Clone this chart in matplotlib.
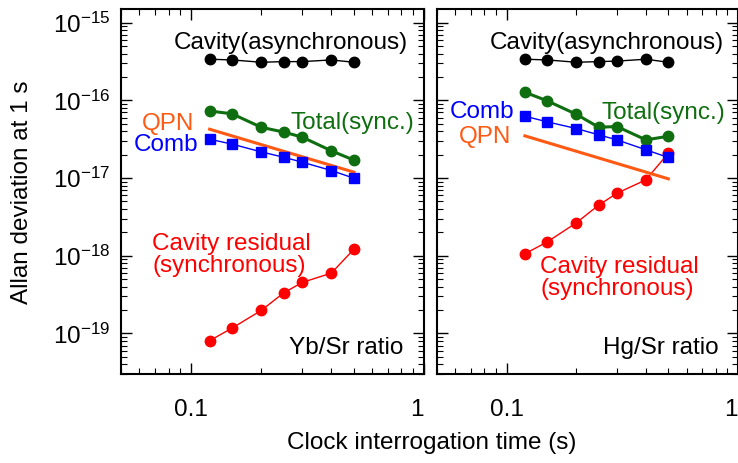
import matplotlib
matplotlib.use("Agg")
import matplotlib.pyplot as plt
from matplotlib.ticker import LogLocator, NullFormatter, FixedLocator
import numpy as np

plt.rcParams['font.family'] = ['Liberation Sans', 'DejaVu Sans']
plt.rcParams['mathtext.fontset'] = 'custom'
plt.rcParams['mathtext.rm'] = 'Liberation Sans'
plt.rcParams['mathtext.it'] = 'Liberation Sans'
plt.rcParams['mathtext.default'] = 'regular'

#
# Data
#
tau = [0.12, 0.15, 0.2, 0.25, 0.3, 0.4, 0.5]
qpn_tau = [0.12, 0.5]

# Yb/Sr ratio
yb_cavity = [3.38e-16, 3.31e-16, 3.09e-16, 3.15e-16, 3.15e-16, 3.31e-16, 3.09e-16]
yb_total = [7.3e-17, 6.7e-17, 4.5e-17, 3.9e-17, 3.36e-17, 2.24e-17, 1.70e-17]
yb_comb = [3.16e-17, 2.73e-17, 2.17e-17, 1.85e-17, 1.60e-17, 1.25e-17, 9.95e-18]
yb_qpn = [4.25e-17, 1.19e-17]
yb_resid = [8.07e-20, 1.175e-19, 1.98e-19, 3.34e-19, 4.54e-19, 5.98e-19, 1.216e-18]

# Hg/Sr ratio
hg_cavity = [3.38e-16, 3.31e-16, 3.09e-16, 3.15e-16, 3.2e-16, 3.38e-16, 3.09e-16]
hg_total = [1.27e-16, 9.84e-17, 6.62e-17, 4.51e-17, 4.60e-17, 3.10e-17, 3.45e-17]
hg_comb = [6.25e-17, 5.28e-17, 4.34e-17, 3.60e-17, 3.10e-17, 2.31e-17, 1.84e-17]
hg_qpn = [3.49e-17, 9.77e-18]
hg_resid = [1.06e-18, 1.51e-18, 2.65e-18, 4.48e-18, 6.38e-18, 9.48e-18, 2.09e-17]

y_major = [1e-19, 1e-18, 1e-17, 1e-16, 1e-15]

green = '#0f6e0f'
orange = '#ff5a14'
fs = 17.5

fig = plt.figure(figsize=(7.38, 4.63), dpi=100)
ax1 = fig.add_axes([0.164, 0.192, 0.4106, 0.7887])
ax2 = fig.add_axes([0.592, 0.192, 0.408, 0.7887])


def panel(ax, cav, tot, comb, qpn, res):
    ax.plot(tau, cav, '-o', color='black', lw=1, ms=7.5, zorder=3)
    ax.plot(tau, res, '-o', color='#ff0000', lw=1, ms=7.5, zorder=3)
    ax.plot(qpn_tau, qpn, '-', color=orange, lw=2.2, zorder=4)
    ax.plot(tau, tot, '-o', color=green, lw=2.2, ms=7.5, zorder=5)
    ax.plot(tau, comb, '-s', color='#0000ff', lw=1, ms=7, zorder=6)
    ax.set_xscale('log')
    ax.set_yscale('log')
    ax.set_xlim(0.05, 1)
    ax.set_ylim(3e-20, 1.5e-15)
    ax.xaxis.set_major_locator(FixedLocator([0.1, 1]))
    ax.xaxis.set_minor_locator(LogLocator(base=10, subs=np.arange(2, 10)))
    ax.xaxis.set_minor_formatter(NullFormatter())
    ax.set_xticklabels(['0.1', '1'])
    ax.get_xticklabels()[1].set_ha('right')
    ax.yaxis.set_major_locator(FixedLocator(y_major))
    ax.yaxis.set_minor_locator(LogLocator(base=10, subs=np.arange(2, 10), numticks=20))
    ax.yaxis.set_minor_formatter(NullFormatter())
    ax.tick_params(which='both', direction='in', top=True, right=True, labelsize=fs)
    ax.tick_params(which='major', length=8, width=1)
    ax.tick_params(which='minor', length=4, width=0.8)
    ax.tick_params(axis='x', pad=18)
    ax.tick_params(axis='y', pad=8)
    for s in ax.spines.values():
        s.set_linewidth(1.5)


panel(ax1, yb_cavity, yb_total, yb_comb, yb_qpn, yb_resid)
ax1.set_yticklabels([r'$10^{-19}$', r'$10^{-18}$', r'$10^{-17}$',
                     r'$10^{-16}$', r'$10^{-15}$'])
panel(ax2, hg_cavity, hg_total, hg_comb, hg_qpn, hg_resid)
ax2.set_yticklabels([])

# Left panel labels
ax1.text(0.267, 5.5e-16, 'Cavity(asynchronous)', fontsize=fs, ha='center', va='center')
ax1.text(0.49, 5.08e-17, 'Total(sync.)', fontsize=fs, ha='center', va='center', color=green)
ax1.text(0.0796, 5.0e-17, 'QPN', fontsize=fs, ha='center', va='center', color=orange)
ax1.text(0.078, 2.65e-17, 'Comb', fontsize=fs, ha='center', va='center', color='#0000ff')
ax1.text(0.0681, 1.03e-18, 'Cavity residual\n(synchronous)', fontsize=fs,
         ha='left', va='center', color='#ff0000', linespacing=1.0)
ax1.text(0.462, 6.5e-20, 'Yb/Sr ratio', fontsize=fs, ha='center', va='center')

# Right panel labels
ax2.text(0.27, 5.5e-16, 'Cavity(asynchronous)', fontsize=fs, ha='center', va='center')
ax2.text(0.078, 7.18e-17, 'Comb', fontsize=fs, ha='center', va='center', color='#0000ff')
ax2.text(0.0804, 3.42e-17, 'QPN', fontsize=fs, ha='center', va='center', color=orange)
ax2.text(0.475, 6.97e-17, 'Total(sync.)', fontsize=fs, ha='center', va='center', color=green)
ax2.text(0.1395, 5.15e-19, 'Cavity residual\n(synchronous)', fontsize=fs,
         ha='left', va='center', color='#ff0000', linespacing=1.0)
ax2.text(0.466, 6.5e-20, 'Hg/Sr ratio', fontsize=fs, ha='center', va='center')

fig.text(0.585, 1 - 443 / 463, 'Clock interrogation time (s)', fontsize=fs,
         ha='center', va='center')
fig.text(22 / 738, 1 - 192 / 463, 'Allan deviation at 1 s', fontsize=fs,
         ha='center', va='center', rotation=90)

fig.savefig('out.png', dpi=100)
